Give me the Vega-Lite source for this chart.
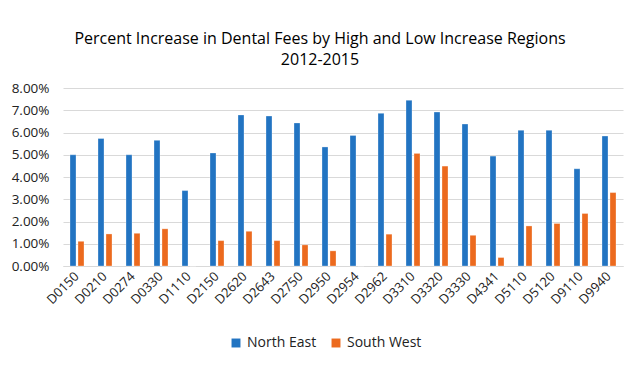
{
  "$schema": "https://vega.github.io/schema/vega-lite/v6.json",
  "width": 560,
  "height": 178,
  "autosize": {"type": "none"},
  "padding": {"left": 63, "top": 88, "right": 17, "bottom": 114},
  "background": "#ffffff",
  "title": {
    "text": ["Percent Increase in Dental Fees by High and Low Increase Regions", "2012-2015"],
    "anchor": "middle",
    "frame": "group",
    "dx": -23,
    "font": "Open Sans",
    "fontSize": 16,
    "fontWeight": "normal",
    "color": "#000000",
    "lineHeight": 21,
    "offset": 13
  },
  "data": {
    "values": [
      {"code": "D0150", "region": "North East", "pct": 5.00},
      {"code": "D0150", "region": "South West", "pct": 1.11},
      {"code": "D0210", "region": "North East", "pct": 5.73},
      {"code": "D0210", "region": "South West", "pct": 1.44},
      {"code": "D0274", "region": "North East", "pct": 5.00},
      {"code": "D0274", "region": "South West", "pct": 1.47},
      {"code": "D0330", "region": "North East", "pct": 5.65},
      {"code": "D0330", "region": "South West", "pct": 1.67},
      {"code": "D1110", "region": "North East", "pct": 3.39},
      {"code": "D1110", "region": "South West", "pct": 0},
      {"code": "D2150", "region": "North East", "pct": 5.08},
      {"code": "D2150", "region": "South West", "pct": 1.14},
      {"code": "D2620", "region": "North East", "pct": 6.79},
      {"code": "D2620", "region": "South West", "pct": 1.56},
      {"code": "D2643", "region": "North East", "pct": 6.74},
      {"code": "D2643", "region": "South West", "pct": 1.14},
      {"code": "D2750", "region": "North East", "pct": 6.43},
      {"code": "D2750", "region": "South West", "pct": 0.95},
      {"code": "D2950", "region": "North East", "pct": 5.35},
      {"code": "D2950", "region": "South West", "pct": 0.68},
      {"code": "D2954", "region": "North East", "pct": 5.87},
      {"code": "D2954", "region": "South West", "pct": 0},
      {"code": "D2962", "region": "North East", "pct": 6.86},
      {"code": "D2962", "region": "South West", "pct": 1.43},
      {"code": "D3310", "region": "North East", "pct": 7.45},
      {"code": "D3310", "region": "South West", "pct": 5.06},
      {"code": "D3320", "region": "North East", "pct": 6.92},
      {"code": "D3320", "region": "South West", "pct": 4.49},
      {"code": "D3330", "region": "North East", "pct": 6.38},
      {"code": "D3330", "region": "South West", "pct": 1.38},
      {"code": "D4341", "region": "North East", "pct": 4.94},
      {"code": "D4341", "region": "South West", "pct": 0.38},
      {"code": "D5110", "region": "North East", "pct": 6.10},
      {"code": "D5110", "region": "South West", "pct": 1.80},
      {"code": "D5120", "region": "North East", "pct": 6.10},
      {"code": "D5120", "region": "South West", "pct": 1.91},
      {"code": "D9110", "region": "North East", "pct": 4.37},
      {"code": "D9110", "region": "South West", "pct": 2.36},
      {"code": "D9940", "region": "North East", "pct": 5.84},
      {"code": "D9940", "region": "South West", "pct": 3.30}
    ]
  },
  "mark": {"type": "bar", "stroke": "#ffffff", "strokeOpacity": 0.5, "strokeWidth": 0.6},
  "encoding": {
    "x": {
      "field": "code",
      "type": "nominal",
      "sort": null,
      "title": null,
      "scale": {"paddingInner": 0.5, "paddingOuter": 0.25},
      "axis": {
        "labelAngle": -45,
        "labelAlign": "right",
        "labelBaseline": "middle",
        "labelFont": "Open Sans",
        "labelFontSize": 13,
        "labelColor": "#222222",
        "labelPadding": 8,
        "ticks": false,
        "domainColor": "#d9d9d9",
        "domainWidth": 1,
        "grid": false
      }
    },
    "xOffset": {
      "field": "region",
      "type": "nominal",
      "scale": {"paddingInner": 0.25, "paddingOuter": 0}
    },
    "y": {
      "field": "pct",
      "type": "quantitative",
      "title": null,
      "scale": {"domain": [0, 8], "nice": false},
      "axis": {
        "values": [0, 1, 2, 3, 4, 5, 6, 7, 8],
        "labelExpr": "format(datum.value, '.2f') + '%'",
        "labelFont": "Open Sans",
        "labelFontSize": 13.5,
        "labelColor": "#222222",
        "labelPadding": 14,
        "ticks": false,
        "domain": false,
        "grid": true,
        "gridColor": "#d9d9d9",
        "gridWidth": 1
      }
    },
    "color": {
      "field": "region",
      "type": "nominal",
      "title": null,
      "scale": {"domain": ["North East", "South West"], "range": ["#2274C2", "#EC6A1E"]},
      "legend": {
        "orient": "none",
        "legendX": 166,
        "legendY": 248,
        "direction": "horizontal",
        "symbolType": "square",
        "symbolSize": 80,
        "symbolStrokeWidth": 0,
        "labelFont": "Open Sans",
        "labelFontSize": 14,
        "labelColor": "#222222",
        "columnPadding": 12
      }
    }
  },
  "config": {
    "view": {"stroke": null}
  }
}
